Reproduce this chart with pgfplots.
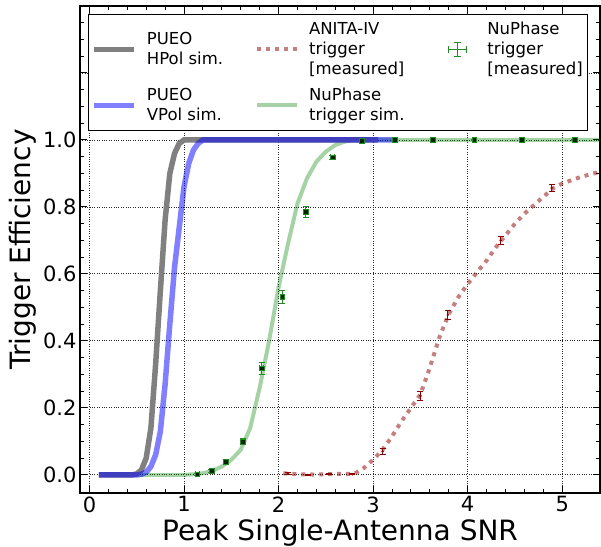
\documentclass[border=0pt]{standalone}
\usepackage{fontspec}
\setmainfont{DejaVu Sans}
\usepackage{pgfplots}
\pgfplotsset{compat=1.18}
\definecolor{hpol}{HTML}{808080}
\definecolor{nugreen}{HTML}{008000}
\definecolor{forest}{HTML}{228B22}
\definecolor{darkred}{HTML}{8B0000}
\tikzset{
  hpolstyle/.style={draw=hpol, line width=5.5pt},
  vpolstyle/.style={draw=blue, draw opacity=0.5, line width=5.5pt},
  nusimstyle/.style={draw=nugreen, draw opacity=0.35, line width=4pt},
  anitastyle/.style={draw=darkred, draw opacity=0.5, line width=4pt, dash pattern=on 4pt off 5pt},
}
\begin{document}
\begin{tikzpicture}
\begin{axis}[
  scale only axis, width=520pt, height=487pt,
  xmin=-0.1, xmax=5.4, ymin=-0.054, ymax=1.4,
  xtick={0,1,2,3,4,5},
  minor x tick num=4,
  ytick={0,0.2,0.4,0.6,0.8,1.0,1.2,1.4},
  yticklabels={0.0,0.2,0.4,0.6,0.8,1.0,,},
  minor y tick num=3,
  tick align=inside,
  xtick pos=both, ytick pos=both,
  major tick length=7pt, minor tick length=4pt,
  every tick/.style={black, line width=1pt},
  axis line style={line width=1.5pt},
  grid=major, major grid style={dotted, black!85, line width=0.9pt},
  tick label style={font=\fontsize{21}{25}\selectfont},
  /pgf/number format/assume math mode=true,
  label style={font=\fontsize{28}{33}\selectfont},
  xlabel={Peak Single-Antenna SNR},
  ylabel={Trigger Efficiency},
  legend image code/.code={\draw[#1] (0pt,0pt) -- (40pt,0pt);},
  legend columns=3,
  legend style={at={(axis description cs:0.0154,0.9836)}, anchor=north west,
    draw=black, line width=0.8pt, fill=white,
    font=\fontsize{16.5}{20}\selectfont,
    cells={anchor=west, align=left},
    inner xsep=3pt, inner ysep=6pt,
    /tikz/row sep=8pt,
    /tikz/every even column/.append style={column sep=30pt},
    /tikz/every odd column/.append style={column sep=8pt}},
]
% NuPhase trigger sim (under)
\addplot[nusimstyle, forget plot] coordinates {
(0.1,0) (1.0,0) (1.1,0.002) (1.2,0.005) (1.3,0.012) (1.4,0.025) (1.5,0.045)
(1.6,0.075) (1.7,0.14) (1.8,0.26) (1.9,0.40) (2.0,0.56) (2.1,0.69) (2.2,0.81)
(2.3,0.885) (2.4,0.935) (2.5,0.965) (2.6,0.985) (2.7,0.995) (2.8,1.0) (5.4,1.0)};
% PUEO HPol sim
\addplot[hpolstyle, forget plot] coordinates {
(0.1,0) (0.45,0) (0.5,0.003) (0.55,0.015) (0.6,0.05) (0.65,0.14) (0.7,0.33)
(0.75,0.55) (0.8,0.76) (0.85,0.9) (0.9,0.96) (0.95,0.99) (1.0,1.0) (3.05,1.0)};
% PUEO VPol sim
\addplot[vpolstyle, forget plot] coordinates {
(0.1,0) (0.5,0) (0.55,0.002) (0.6,0.008) (0.65,0.025) (0.7,0.06) (0.75,0.13)
(0.8,0.27) (0.85,0.45) (0.9,0.62) (0.95,0.74) (1.0,0.86) (1.05,0.93) (1.1,0.97)
(1.15,0.99) (1.2,1.0) (3.25,1.0)};
% ANITA-IV trigger measured (curve)
\addplot[anitastyle, forget plot] coordinates {
(2.05,0.005) (2.2,0.002) (2.4,0.001) (2.6,0.003) (2.8,0.003) (2.9,0.02) (3.0,0.045)
(3.1,0.075) (3.2,0.115) (3.3,0.16) (3.4,0.20) (3.5,0.24) (3.6,0.32) (3.7,0.41)
(3.8,0.48) (3.9,0.53) (4.0,0.57) (4.1,0.605) (4.2,0.64) (4.3,0.68) (4.4,0.715)
(4.5,0.75) (4.6,0.78) (4.7,0.805) (4.8,0.83) (4.9,0.855) (5.0,0.87) (5.2,0.89) (5.4,0.905)};
% ANITA-IV error bars
\addplot[only marks, mark=*, mark size=1pt, darkred, forget plot,
  error bars/.cd, y dir=both, y explicit,
  error bar style={line width=1pt, darkred},
  error mark options={rotate=90, mark size=3pt, line width=1pt, darkred}]
  table[x=x, y=y, y error=e] {
x y e
2.10 0.005 0.003
2.31 0.000 0.002
2.53 0.002 0.002
2.78 0.002 0.002
3.10 0.070 0.008
3.50 0.236 0.013
3.79 0.478 0.014
4.35 0.700 0.012
4.89 0.857 0.011
};
% NuPhase trigger measured
\addplot[only marks, mark=square*, mark size=2.4pt,
  mark options={fill=black!70!nugreen, draw=forest, line width=0.6pt}, forget plot,
  error bars/.cd, y dir=both, y explicit, x dir=both, x fixed=0.02,
  error bar style={line width=1pt, forest},
  error mark options={rotate=90, mark size=3pt, line width=1pt, forest}]
  table[x=x, y=y, y error=e] {
x y e
1.14 0.002 0.003
1.29 0.012 0.004
1.44 0.040 0.007
1.62 0.100 0.010
1.82 0.318 0.018
2.04 0.532 0.020
2.29 0.786 0.016
2.57 0.948 0.006
2.88 0.998 0.002
3.23 1.000 0.001
3.63 1.000 0.001
4.07 1.000 0.001
4.57 1.000 0.001
5.13 1.000 0.001
};
% legend (row-wise order)
\addlegendimage{hpolstyle}
\addlegendentry{PUEO\\HPol sim.}
\addlegendimage{anitastyle}
\addlegendentry{ANITA-IV\\trigger\\{[measured]}}
\addlegendimage{legend image code/.code={
  \path (0pt,0pt) (40pt,0pt);
  \draw[forest, line width=1pt] (12pt,0pt) -- (30pt,0pt) (21pt,-7pt) -- (21pt,7pt)
    (12pt,-3.5pt) -- (12pt,3.5pt) (30pt,-3.5pt) -- (30pt,3.5pt)
    (17.5pt,-7pt) -- (24.5pt,-7pt) (17.5pt,7pt) -- (24.5pt,7pt);}}
\addlegendentry{NuPhase\\trigger\\{[measured]}}
\addlegendimage{vpolstyle}
\addlegendentry{PUEO\\VPol sim.}
\addlegendimage{nusimstyle}
\addlegendentry{NuPhase\\trigger sim.}
\end{axis}
\pgfresetboundingbox
\path ([shift={(-80pt,-54pt)}]current axis.south west) rectangle ([shift={(1pt,6pt)}]current axis.north east);
\end{tikzpicture}
\end{document}
